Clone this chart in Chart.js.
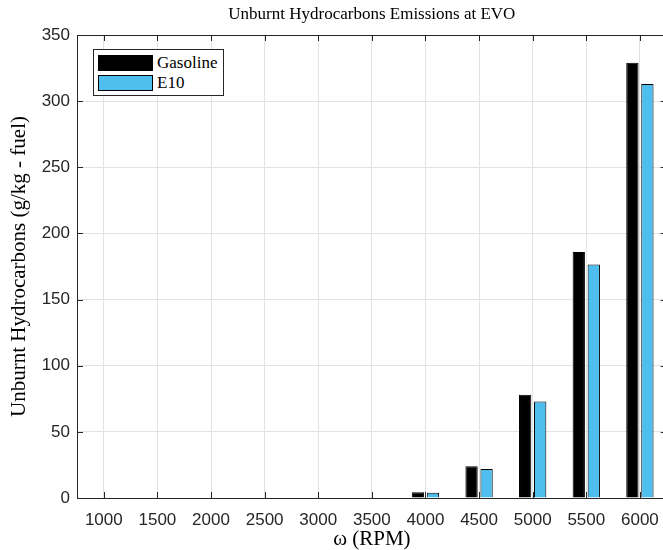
<!DOCTYPE html>
<html>
<head>
<meta charset="utf-8">
<script src="https://cdn.jsdelivr.net/npm/chart.js@4"></script>
<style>
  html, body { margin: 0; padding: 0; background: #fff; overflow: hidden; }
  #wrap { position: relative; width: 671px; height: 550px; }
  #legend {
    position: absolute; left: 93px; top: 49px; width: 125px;
    border: 1px solid #262626; background: #fff; padding: 3px 0 2px 4px;
    font: 17px "Liberation Serif", serif; color: #000;
  }
  .row { display: flex; align-items: center; height: 20px; }
  .sw { width: 53px; height: 14px; border: 1px solid #000; margin-right: 4px; }
</style>
</head>
<body>
<div id="wrap">
  <canvas id="chart" width="671" height="550"></canvas>
  <div id="legend"></div>
</div>
<script>
// ---- data ----
const rpm = ['1000', '1500', '2000', '2500', '3000', '3500', '4000', '4500', '5000', '5500', '6000'];
const gasoline = [0, 0, 0, 0, 0, 0, 4.3, 24, 78, 186, 329];
const e10 = [0, 0, 0, 0, 0, 0, 4, 22, 73, 176.5, 313];
const seriesNames = ['Gasoline', 'E10'];
const seriesColors = ['#000000', '#4DBEEE'];

const axisColor = '#262626';
const gridColor = '#e3e3e3';

// MATLAB-style box with inward tick marks
const boxTicks = {
  id: 'boxTicks',
  afterDatasetsDraw(chart) {
    const { ctx, chartArea: a, scales } = chart;
    const len = 6;
    ctx.save();
    ctx.strokeStyle = axisColor;
    ctx.lineWidth = 1;
    ctx.beginPath();
    scales.x.ticks.forEach((t, i) => {
      const px = Math.round(scales.x.getPixelForTick(i)) + 0.5;
      ctx.moveTo(px, a.bottom); ctx.lineTo(px, a.bottom - len);
      ctx.moveTo(px, a.top); ctx.lineTo(px, a.top + len);
    });
    scales.y.ticks.forEach((t, i) => {
      const py = Math.round(scales.y.getPixelForTick(i)) + 0.5;
      ctx.moveTo(a.left, py); ctx.lineTo(a.left + len, py);
      ctx.moveTo(a.right, py); ctx.lineTo(a.right - len, py);
    });
    ctx.stroke();
    ctx.strokeRect(Math.round(a.left) + 0.5, Math.round(a.top) + 0.5,
      Math.round(a.right - a.left), Math.round(a.bottom - a.top));
    ctx.restore();
  }
};

const chart = new Chart(document.getElementById('chart'), {
  type: 'bar',
  data: {
    labels: rpm,
    datasets: [
      { label: seriesNames[0], data: gasoline, backgroundColor: seriesColors[0], borderColor: '#000', borderWidth: 1 },
      { label: seriesNames[1], data: e10, backgroundColor: seriesColors[1], borderColor: '#000', borderWidth: 1 }
    ]
  },
  options: {
    responsive: false,
    animation: false,
    layout: { padding: 0 },
    datasets: { bar: { categoryPercentage: 0.56, barPercentage: 0.82 } },
    plugins: {
      legend: { display: false },
      tooltip: { enabled: false },
      title: {
        display: true,
        fullSize: false,
        text: 'Unburnt Hydrocarbons Emissions at EVO',
        color: '#000',
        font: { family: 'Liberation Serif', size: 17, weight: 'normal', lineHeight: 1.2 },
        padding: { top: 4, bottom: 10.6 }
      }
    },
    scales: {
      x: {
        offset: true,
        grid: { offset: false, color: gridColor, drawTicks: false },
        border: { color: axisColor },
        ticks: { color: axisColor, padding: 12, font: { family: 'Liberation Sans', size: 17 }, maxRotation: 0 },
        title: {
          display: true, text: 'ω (RPM)', color: '#000',
          font: { family: 'Liberation Serif', size: 21, lineHeight: 1 }, padding: { top: 0, bottom: 0 }
        },
        afterFit: s => { s.height = 52; }
      },
      y: {
        min: 0, max: 350,
        grid: { color: gridColor, drawTicks: false },
        border: { color: axisColor },
        ticks: { stepSize: 50, color: axisColor, padding: 7, font: { family: 'Liberation Sans', size: 17 } },
        title: {
          display: true, text: 'Unburnt Hydrocarbons (g/kg - fuel)', color: '#000',
          font: { family: 'Liberation Serif', size: 21, lineHeight: 1 }, padding: { top: 9, bottom: 0 }
        },
        afterFit: s => { s.width = 77; }
      }
    }
  },
  plugins: [boxTicks]
});

// legend box built from the datasets
const legend = document.getElementById('legend');
chart.data.datasets.forEach(ds => {
  const row = document.createElement('div');
  row.className = 'row';
  const sw = document.createElement('div');
  sw.className = 'sw';
  sw.style.background = ds.backgroundColor;
  const lab = document.createElement('span');
  lab.textContent = ds.label;
  row.appendChild(sw);
  row.appendChild(lab);
  legend.appendChild(row);
});
</script>
</body>
</html>
